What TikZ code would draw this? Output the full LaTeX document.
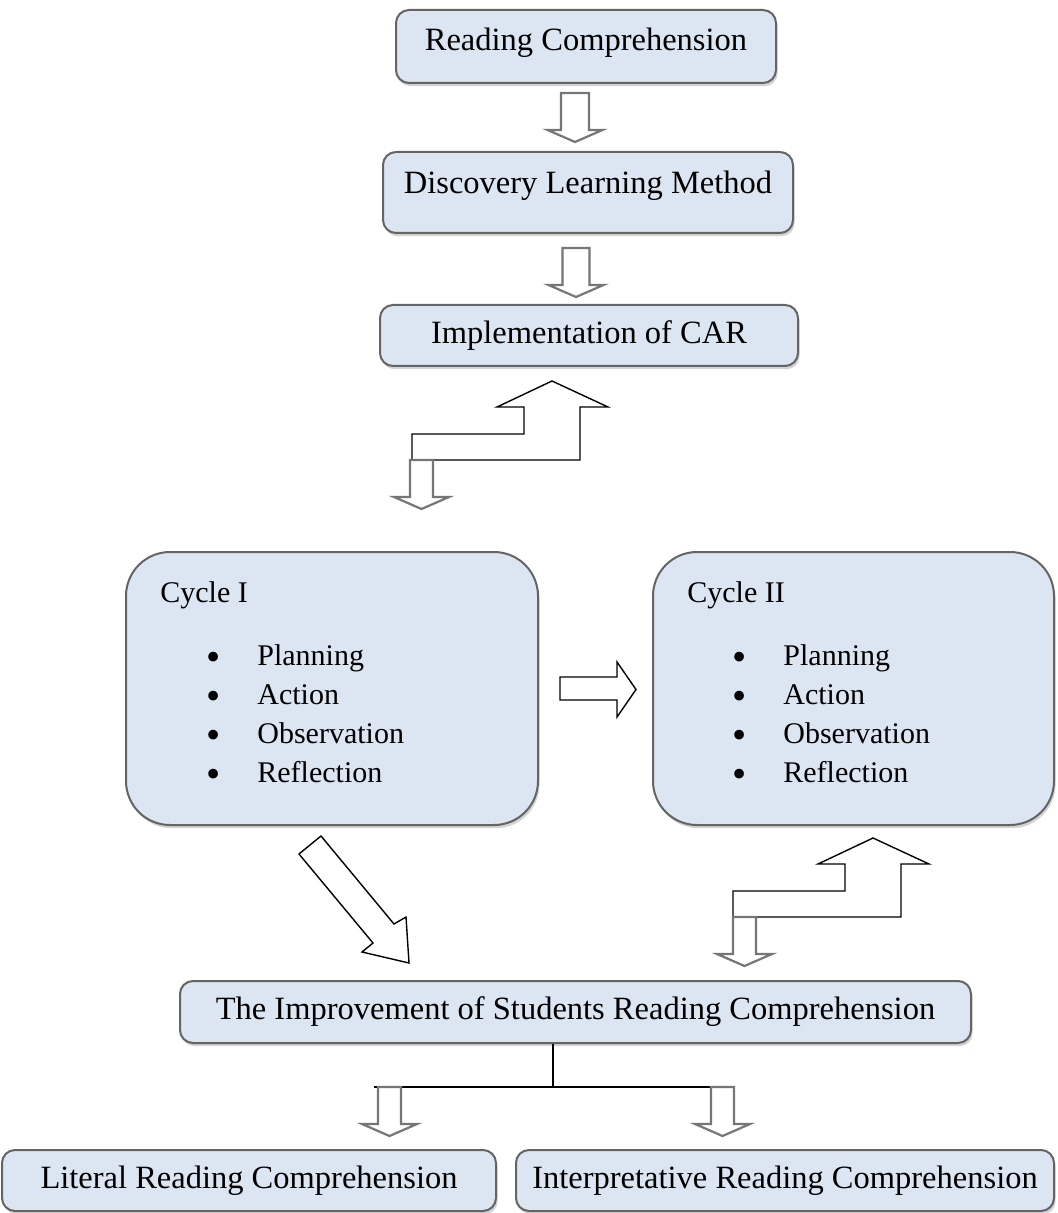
\documentclass[tikz,border=0pt]{standalone}
\usepackage{fontspec}
\usepackage{graphicx}
\setmainfont{Liberation Serif}
\usetikzlibrary{positioning, calc, shadows}
\definecolor{boxfill}{RGB}{220, 230, 242}
\definecolor{boxline}{RGB}{100, 100, 100}
\definecolor{arrowgray}{RGB}{118, 118, 118}

\newcommand{\cyclebullet}{\makebox[25.5pt][l]{\raisebox{-0.17em}{\scalebox{1.35}{\textbullet}}}}

\tikzset{
  stage/.style={draw=boxline, line width=1pt, fill=boxfill, rounded corners=6.5pt, inner sep=0pt,
    font=\fontsize{16.25}{19}\selectfont,
    drop shadow={shadow xshift=0.8pt, shadow yshift=-1.6pt, opacity=0.35}},
  cyclebox/.style={stage, rounded corners=22pt},
  cycletext/.style={inner sep=0pt, text height=0.7em, text depth=0.2em, font=\fontsize{15}{18}\selectfont},
  pics/hollowdown/.style={code={
    \draw[arrowgray, line width=1.1pt, fill=white, line join=miter]
      (-#1,0) -- (#1,0) -- (#1,37) -- (27.5,37) -- (0,49) -- (-27.5,37) -- (-#1,37) -- cycle;
  }},
  pics/stepup/.style={code={
    \draw[line width=0.7pt, fill=white]
      (0,0) -- (0,-26) -- (112,-26) -- (112,-53) -- (85,-53) -- (140,-79)
      -- (196,-53) -- (168,-53) -- (168,0) -- cycle;
  }},
}

\begin{document}
\begin{tikzpicture}[x=0.5pt, y=-0.5pt]
  \useasboundingbox (0,0) rectangle (1057,1213);

  % top chain
  \node[stage, minimum width=190pt, minimum height=36.5pt, text depth=7pt] (rc) at (586,46.5) {Reading Comprehension};
  \node[stage, minimum width=205pt, minimum height=40.5pt, text depth=10pt] (dlm) at (588,192.5) {Discovery Learning Method};
  \node[stage, minimum width=209pt, minimum height=30.5pt] (car) at (589,335.5) {Implementation of CAR};

  \pic at (575,93) {hollowdown=14};
  \pic at (576,248) {hollowdown=13.5};

  % loop back from the cycles
  \pic at (412,460) {stepup};
  \pic at (421.5,460) {hollowdown=11.5};

  % the two cycles
  \node[cyclebox, minimum width=206pt, minimum height=136.5pt] (cyc1) at (332,688.5) {};
  \node[cyclebox, minimum width=200.5pt, minimum height=136.5pt] (cyc2) at (853.5,688.5) {};

  \node[cycletext, anchor=west] (cyc1title) at (160,597) {Cycle I};
  \node[cycletext, anchor=west] (cyc2title) at (687,597) {Cycle II};
  \foreach \task [count=\k] in {Planning, Action, Observation, Reflection} {
    \node[cycletext, anchor=west] (cyc1task\k) at (206,621+39*\k) {\cyclebullet\task};
    \node[cycletext, anchor=west] (cyc2task\k) at (732,621+39*\k) {\cyclebullet\task};
  }

  % cycle I to cycle II
  \draw[line width=0.7pt, fill=white] (560,677) -- (617,677) -- (617,662) -- (636,689.5)
    -- (617,717) -- (617,700) -- (560,700) -- cycle;

  % cycle I down to the result
  \draw[line width=0.7pt, fill=white] (299,854) -- (373,943) -- (362,952) -- (409,963)
    -- (406,917) -- (394,924) -- (321,836) -- cycle;

  % cycle II and the result
  \pic at (733,917) {stepup};
  \pic at (744.5,917) {hollowdown=11.5};

  \node[stage, minimum width=395.5pt, minimum height=31pt] (imp) at (575.5,1012)
    {The Improvement of Students Reading Comprehension};

  \coordinate (fork) at (553,1087);
  \coordinate (forkl) at (374,1087);
  \coordinate (forkr) at (732,1087);
  \draw[line width=0.7pt] (fork |- imp.south) -- (fork);
  \draw[line width=0.9pt] (forkl) -- (forkr);

  \pic at (389.5,1087) {hollowdown=11.5};
  \pic at (722.5,1087) {hollowdown=11.5};

  \node[stage, minimum width=247pt, minimum height=30.5pt] (lit) at (249,1180.5) {Literal Reading Comprehension};
  \node[stage, minimum width=269pt, minimum height=30.5pt] (inter) at (785,1180.5) {Interpretative Reading Comprehension};
\end{tikzpicture}
\end{document}
